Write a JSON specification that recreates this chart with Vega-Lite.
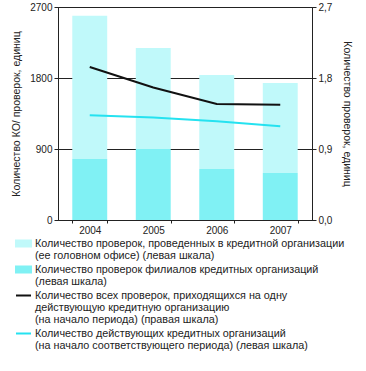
{
  "$schema": "https://vega.github.io/schema/vega-lite/v6.json",
  "width": 254,
  "height": 213,
  "autosize": {"type": "none"},
  "padding": {"left": 58, "top": 7, "right": 54, "bottom": 151},
  "background": "white",
  "config": {
    "font": "Liberation Sans",
    "view": {"stroke": "#222", "strokeWidth": 1},
    "axis": {"labelFont": "Liberation Sans", "labelFontSize": 10, "labelColor": "#222", "titleFont": "Liberation Sans", "titleFontSize": 10.5, "titleFontWeight": "normal", "titleColor": "#222", "domainColor": "#222", "tickColor": "#222"}
  },
  "data": {
    "values": [
      {"year": "2004", "series": "Количество проверок, проведенных в кредитной организации|(ее головном офисе) (левая шкала)", "value": 1817},
      {"year": "2005", "series": "Количество проверок, проведенных в кредитной организации|(ее головном офисе) (левая шкала)", "value": 1280},
      {"year": "2006", "series": "Количество проверок, проведенных в кредитной организации|(ее головном офисе) (левая шкала)", "value": 1192},
      {"year": "2007", "series": "Количество проверок, проведенных в кредитной организации|(ее головном офисе) (левая шкала)", "value": 1141},
      {"year": "2004", "series": "Количество проверок филиалов кредитных организаций|(левая шкала)", "value": 773},
      {"year": "2005", "series": "Количество проверок филиалов кредитных организаций|(левая шкала)", "value": 900},
      {"year": "2006", "series": "Количество проверок филиалов кредитных организаций|(левая шкала)", "value": 646},
      {"year": "2007", "series": "Количество проверок филиалов кредитных организаций|(левая шкала)", "value": 596},
      {"year": "2004", "series": "Количество всех проверок, приходящихся на одну|действующую кредитную организацию|(на начало периода) (правая шкала)", "value": 1.94},
      {"year": "2005", "series": "Количество всех проверок, приходящихся на одну|действующую кредитную организацию|(на начало периода) (правая шкала)", "value": 1.68},
      {"year": "2006", "series": "Количество всех проверок, приходящихся на одну|действующую кредитную организацию|(на начало периода) (правая шкала)", "value": 1.47},
      {"year": "2007", "series": "Количество всех проверок, приходящихся на одну|действующую кредитную организацию|(на начало периода) (правая шкала)", "value": 1.46},
      {"year": "2004", "series": "Количество действующих кредитных организаций|(на начало соответствующего периода) (левая шкала)", "value": 1329},
      {"year": "2005", "series": "Количество действующих кредитных организаций|(на начало соответствующего периода) (левая шкала)", "value": 1299},
      {"year": "2006", "series": "Количество действующих кредитных организаций|(на начало соответствующего периода) (левая шкала)", "value": 1253},
      {"year": "2007", "series": "Количество действующих кредитных организаций|(на начало соответствующего периода) (левая шкала)", "value": 1189}
    ]
  },
  "encoding": {
    "x": {
      "field": "year", "type": "nominal", "title": null,
      "scale": {"paddingInner": 0.45, "paddingOuter": 0.225},
      "axis": {"labelAngle": 0, "tickBand": "extent", "tickSize": 3, "labelPadding": 2, "domain": true}
    },
    "color": {
      "field": "series", "type": "nominal",
      "scale": {
        "domain": [
          "Количество проверок, проведенных в кредитной организации|(ее головном офисе) (левая шкала)",
          "Количество проверок филиалов кредитных организаций|(левая шкала)",
          "Количество всех проверок, приходящихся на одну|действующую кредитную организацию|(на начало периода) (правая шкала)",
          "Количество действующих кредитных организаций|(на начало соответствующего периода) (левая шкала)"
        ],
        "range": ["#c0f9fa", "#80f1f4", "#111111", "#25e2f0"]
      },
      "legend": {
        "title": null,
        "orient": "none",
        "legendX": -43,
        "legendY": 228,
        "padding": 0,
        "symbolSize": 225,
        "symbolOffset": 0,
        "labelOffset": 3,
        "labelLimit": 0,
        "labelFont": "Liberation Sans",
        "labelFontSize": 10.8,
        "labelColor": "#222",
        "rowPadding": 0,
        "labelExpr": "split(datum.label, '|')",
        "encode": {
          "symbols": {
            "update": {
              "shape": {"signal": "datum.index < 2 ? 'M-1,-0.4H1V0.4H-1Z' : 'M-1,0H1'"},
              "fill": {"signal": "datum.index < 2 ? scale('color', datum.value) : 'transparent'"},
              "stroke": {"signal": "datum.index < 2 ? 'transparent' : scale('color', datum.value)"},
              "strokeWidth": {"value": 2},
              "opacity": {"value": 1}
            }
          },
          "labels": {
            "update": {"lineHeight": {"value": 12.3}}
          }
        }
      }
    }
  },
  "layer": [
    {
      "layer": [
        {
          "transform": [{"filter": "indexof(datum.series, 'Количество проверок') == 0"}],
          "mark": {"type": "bar"},
          "encoding": {
            "y": {
              "aggregate": "sum", "field": "value", "type": "quantitative", "stack": "zero",
              "title": "Количество КО/ проверок, единиц",
              "scale": {"domain": [0, 2700], "nice": false},
              "axis": {"values": [0, 900, 1800, 2700], "format": "d", "grid": true, "gridColor": "#222", "gridWidth": 1, "tickSize": 4, "labelPadding": 2, "titlePadding": 8}
            },
            "order": {"field": "series", "sort": "ascending"}
          }
        },
        {
          "transform": [{"filter": "indexof(datum.series, 'Количество действующих') == 0"}],
          "mark": {"type": "line", "strokeWidth": 2},
          "encoding": {
            "y": {"field": "value", "type": "quantitative"}
          }
        }
      ]
    },
    {
      "transform": [{"filter": "indexof(datum.series, 'Количество всех') == 0"}],
      "mark": {"type": "line", "strokeWidth": 2},
      "encoding": {
        "y": {
          "field": "value", "type": "quantitative",
          "title": "Количество проверок, единиц",
          "scale": {"domain": [0, 2.7], "nice": false},
          "axis": {"orient": "right", "values": [0, 0.9, 1.8, 2.7], "labelExpr": "replace(format(datum.value, '.1f'), '.', ',')", "grid": false, "tickSize": 4, "labelPadding": 2, "titlePadding": 10}
        }
      }
    }
  ],
  "resolve": {"scale": {"y": "independent"}, "axis": {"y": "independent"}}
}
